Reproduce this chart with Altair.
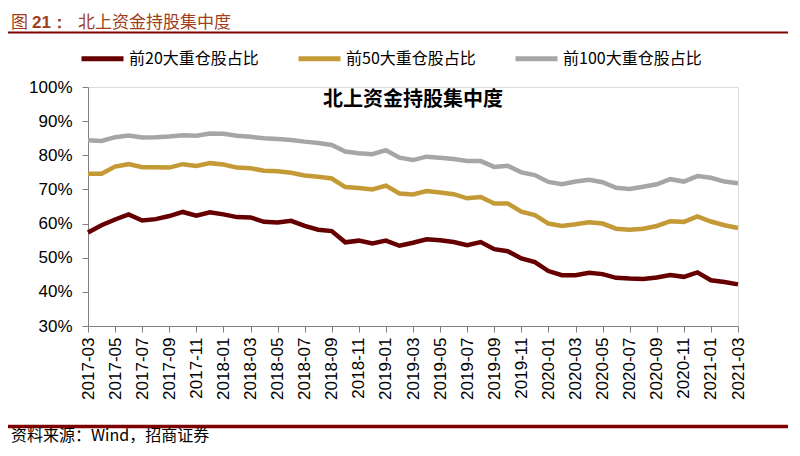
import altair as alt
import pandas as pd

months = [
    "2017-03", "2017-04", "2017-05", "2017-06", "2017-07", "2017-08", "2017-09",
    "2017-10", "2017-11", "2017-12", "2018-01", "2018-02", "2018-03", "2018-04",
    "2018-05", "2018-06", "2018-07", "2018-08", "2018-09", "2018-10", "2018-11",
    "2018-12", "2019-01", "2019-02", "2019-03", "2019-04", "2019-05", "2019-06",
    "2019-07", "2019-08", "2019-09", "2019-10", "2019-11", "2019-12", "2020-01",
    "2020-02", "2020-03", "2020-04", "2020-05", "2020-06", "2020-07", "2020-08",
    "2020-09", "2020-10", "2020-11", "2020-12", "2021-01", "2021-02", "2021-03",
]

top20 = [57.4, 59.5, 61.2, 62.7, 60.9, 61.3, 62.2, 63.4, 62.3, 63.3, 62.7, 61.9, 61.8,
         60.5, 60.3, 60.8, 59.3, 58.2, 57.8, 54.5, 55.0, 54.2, 55.0, 53.5,
         54.4, 55.4, 55.1, 54.6, 53.7, 54.6, 52.5, 51.9, 49.8, 48.7, 46.1, 44.9,
         44.9, 45.6, 45.2, 44.1, 43.9, 43.8, 44.2, 44.9, 44.4, 45.7, 43.4, 42.9, 42.2]
top50 = [74.6, 74.6, 76.7, 77.4, 76.5, 76.5, 76.4, 77.4, 76.9, 77.7, 77.3, 76.4, 76.2,
         75.5, 75.3, 74.9, 74.1, 73.7, 73.2, 70.7, 70.4, 70.0, 71.1, 68.8,
         68.5, 69.5, 69.1, 68.6, 67.4, 67.8, 65.9, 65.9, 63.5, 62.5, 60.0, 59.3,
         59.8, 60.4, 60.0, 58.5, 58.2, 58.5, 59.3, 60.7, 60.5, 62.1, 60.6, 59.5, 58.7]
top100 = [84.4, 84.2, 85.3, 85.8, 85.2, 85.3, 85.5, 85.9, 85.7, 86.4, 86.3, 85.7, 85.4,
          85.0, 84.8, 84.5, 84.0, 83.6, 83.0, 81.1, 80.6, 80.3, 81.5, 79.3,
          78.6, 79.6, 79.3, 78.9, 78.3, 78.3, 76.6, 76.9, 75.0, 74.2, 72.2, 71.5,
          72.3, 72.8, 72.1, 70.5, 70.1, 70.8, 71.5, 73.0, 72.3, 73.9, 73.4, 72.3, 71.8]

series_names = ["前20大重仓股占比", "前50大重仓股占比", "前100大重仓股占比"]
series_colors = ["#660000", "#C49A36", "#A6A6A6"]
y_ticks = [0.3, 0.4, 0.5, 0.6, 0.7, 0.8, 0.9, 1.0]
x_tick_labels = months[::2]

fig_title_a = "图"
fig_title_b = "21："
fig_title_c = "北上资金持股集中度"
inner_title = "北上资金持股集中度"
source_text = "资料来源：Wind，招商证券"

rows = []
for name, vals in zip(series_names, [top20, top50, top100]):
    for m, v in zip(months, vals):
        rows.append({"month": m, "series": name, "value": v / 100.0})
df = pd.DataFrame(rows)

W, H = 650, 239
CJK = "Noto Sans CJK SC"
LAT = "Liberation Sans"

lines = alt.Chart(df).mark_line(strokeWidth=4.5).encode(
    x=alt.X("month:O", sort=months,
            scale=alt.Scale(type="point", padding=0),
            axis=alt.Axis(values=x_tick_labels, labelAngle=-90, title=None,
                          labelFont=LAT, labelFontSize=17, labelColor="#000000",
                          labelAlign="right", labelBaseline="middle",
                          tickSize=6, labelPadding=5, domainColor="#808080",
                          tickColor="#808080", grid=False, labelOverlap=False)),
    y=alt.Y("value:Q", scale=alt.Scale(domain=[0.3, 1.0], nice=False, zero=False),
            axis=alt.Axis(values=y_ticks, format=".0%", title=None,
                          labelFont=LAT, labelFontSize=17, labelColor="#000000",
                          tickSize=6, labelPadding=10, domainColor="#808080",
                          tickColor="#808080", grid=False)),
    color=alt.Color("series:N", sort=series_names,
                    scale=alt.Scale(domain=series_names, range=series_colors),
                    legend=alt.Legend(orient="none", legendX=-9, legendY=-52,
                                      direction="horizontal", columns=3, title=None,
                                      symbolType="stroke", symbolSize=1764,
                                      symbolStrokeWidth=5, labelFont=CJK,
                                      labelFontSize=16, labelColor="#000000",
                                      labelOffset=3, columnPadding=29,
                                      padding=0, labelLimit=300)),
)

one = pd.DataFrame({"k": [0]})

def txt(text, x, y, size, color="#000000", weight="normal", font=CJK, align="left"):
    return alt.Chart(one).mark_text(
        text=text, font=font, fontSize=size, fontWeight=weight, color=color,
        align=align, baseline="middle",
    ).encode(x=alt.value(x), y=alt.value(y))

def hrule(y, color, width):
    return alt.Chart(one).mark_rule(color=color, strokeWidth=width).encode(
        x=alt.value(-80), x2=alt.value(W + 54), y=alt.value(y))

title_color = "#A0401C"
layers = [
    lines,
    txt(fig_title_a, -77, -64, 17, color=title_color),
    txt(fig_title_b, -56, -64, 17, color=title_color, weight="bold", font=LAT),
    txt(fig_title_c, -10, -64, 17, color=title_color),
    hrule(-54.5, "#7F0000", 2),
    txt(inner_title, W / 2, 13, 20, weight="bold", align="center"),
    hrule(339.5, "#7F0000", 3.5),
    txt(source_text, -77, 349, 16),
]

chart = alt.layer(*layers).properties(
    width=W, height=H,
    autosize=alt.AutoSizeParams(type="none"),
    padding={"left": 80, "top": 79, "right": 50, "bottom": 121},
).configure_view(stroke=None).configure(background="#ffffff")

chart.save("out.html", embed_options={"renderer": "svg", "actions": False})
